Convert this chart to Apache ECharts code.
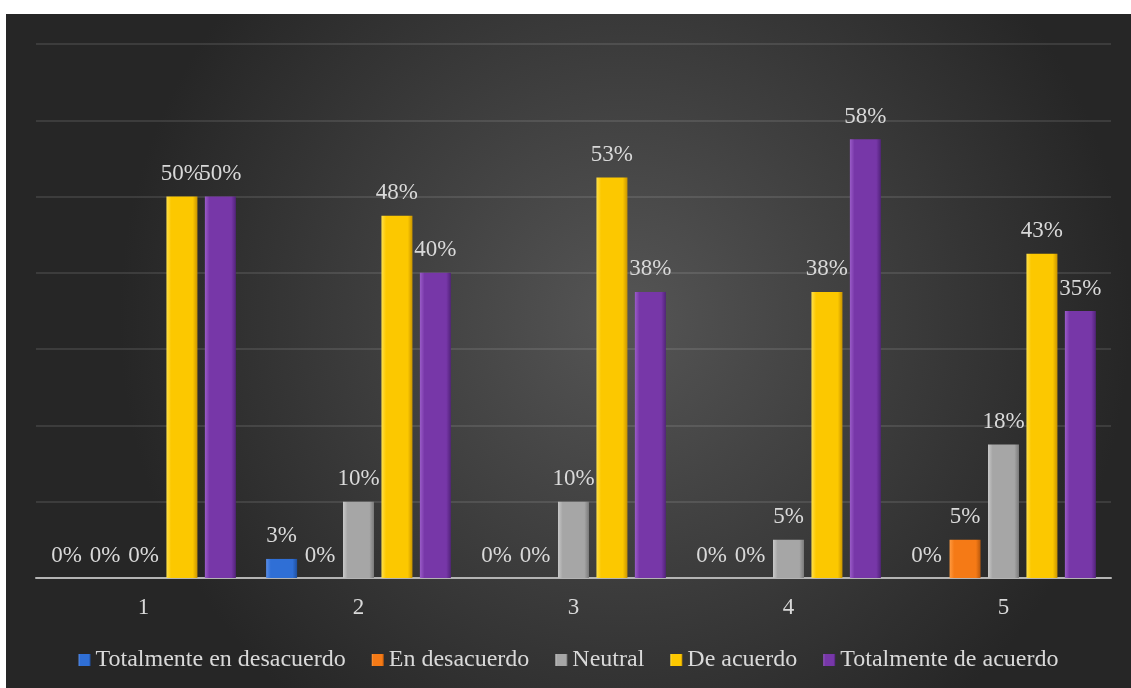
<!DOCTYPE html>
<html>
<head>
<meta charset="utf-8">
<script src="https://cdn.jsdelivr.net/npm/echarts@6/dist/echarts.min.js"></script>
<style>
  html, body { margin: 0; padding: 0; background: #fff; }
  #chart {
    position: absolute;
    left: 6px;
    top: 14px;
    width: 1125px;
    height: 674px;
  }
</style>
</head>
<body>
<div id="chart"></div>
<script>
// categorías y valores (%)
const categories = ['1', '2', '3', '4', '5']
const totDesacuerdo = [0, 2.5, 0, 0, 0]
const enDesacuerdo = [0, 0, 0, 0, 5]
const neutral = [0, 10, 10, 5, 17.5]
const deAcuerdo = [50, 47.5, 52.5, 37.5, 42.5]
const totAcuerdo = [50, 40, 37.5, 57.5, 35]
const seriesNames = ['Totalmente en desacuerdo', 'En desacuerdo', 'Neutral', 'De acuerdo', 'Totalmente de acuerdo']

const myChart = echarts.init(document.getElementById('chart'))

function barColor(light, mid, dark) {
  return new echarts.graphic.LinearGradient(0, 0, 1, 0, [
    { offset: 0, color: light },
    { offset: 0.15, color: mid },
    { offset: 0.85, color: mid },
    { offset: 1, color: dark }
  ])
}

const colors = [
  barColor('#5a8ee8', '#2f6fd6', '#1f4f9e'),
  barColor('#ff9a40', '#f57a16', '#b9580c'),
  barColor('#c8c8c8', '#a6a6a6', '#7a7a7a'),
  barColor('#ffe04a', '#fcc800', '#c99400'),
  barColor('#9a5cc8', '#7737a8', '#52237a')
]
const iconColors = ['#2f6fd6', '#f57a16', '#a6a6a6', '#fcc800', '#7737a8']

const dataSets = [totDesacuerdo, enDesacuerdo, neutral, deAcuerdo, totAcuerdo]

const series = dataSets.map((d, i) => ({
  name: seriesNames[i],
  type: 'bar',
  barWidth: 31,
  barGap: '24%',
  data: d,
  itemStyle: {
    color: colors[i]
  },
  label: {
    show: true,
    position: 'top',
    distance: 11,
    color: '#d9d9d9',
    fontFamily: 'Liberation Serif',
    fontSize: 23,
    formatter: p => Math.round(p.value) + '%'
  }
}))

const option = {
  backgroundColor: new echarts.graphic.RadialGradient(0.55, 0.45, 0.75, [
    { offset: 0, color: '#555555' },
    { offset: 1, color: '#262626' }
  ]),
  color: iconColors,
  grid: {
    left: 30,
    right: 20,
    top: 30,
    bottom: 110,
    containLabel: false
  },
  legend: {
    bottom: 11,
    left: 'center',
    icon: 'rect',
    itemWidth: 12,
    itemHeight: 12,
    itemGap: 26,
    textStyle: {
      color: '#d9d9d9',
      fontFamily: 'Liberation Serif',
      fontSize: 24
    },
    data: seriesNames
  },
  xAxis: {
    type: 'category',
    data: categories,
    axisLine: {
      show: true,
      lineStyle: { color: '#b4b4b4', width: 2 }
    },
    axisTick: { show: false },
    axisLabel: {
      color: '#d9d9d9',
      fontFamily: 'Liberation Serif',
      fontSize: 23,
      margin: 18
    }
  },
  yAxis: {
    type: 'value',
    min: 0,
    max: 70,
    interval: 10,
    axisLine: { show: false },
    axisTick: { show: false },
    axisLabel: { show: false },
    splitLine: {
      show: true,
      lineStyle: { color: 'rgba(255,255,255,0.1)', width: 2 }
    }
  },
  series: series
}

myChart.setOption(option)
</script>
</body>
</html>
